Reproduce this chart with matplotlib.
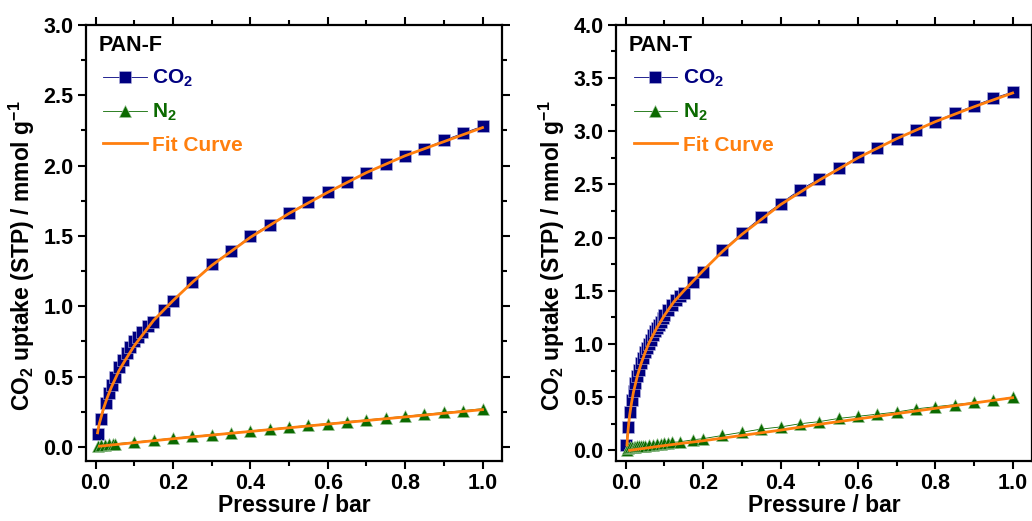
import matplotlib
matplotlib.use("Agg")
import matplotlib.pyplot as plt
from matplotlib.ticker import MultipleLocator, FormatStrFormatter

plt.rcParams["font.family"] = ["Liberation Sans", "DejaVu Sans"]
plt.rcParams["font.weight"] = "bold"
plt.rcParams["mathtext.fontset"] = "custom"
plt.rcParams["mathtext.rm"] = "Liberation Sans:bold"
plt.rcParams["mathtext.it"] = "Liberation Sans:bold"
plt.rcParams["mathtext.bf"] = "Liberation Sans:bold"
plt.rcParams["mathtext.default"] = "rm"

# ---- PAN-F ----
pf_co2_p = [0.005, 0.015, 0.026, 0.035, 0.042, 0.05, 0.06, 0.07, 0.08, 0.09,
            0.10, 0.11, 0.12, 0.135, 0.148, 0.177, 0.2, 0.25, 0.3, 0.35,
            0.4, 0.45, 0.5, 0.55, 0.6, 0.65, 0.7, 0.75, 0.8, 0.85, 0.9, 0.95, 1.0]
pf_co2_v = [0.09, 0.20, 0.31, 0.38, 0.44, 0.50, 0.57, 0.62, 0.67, 0.71,
            0.75, 0.78, 0.82, 0.86, 0.89, 0.97, 1.04, 1.17, 1.30, 1.39,
            1.50, 1.58, 1.66, 1.74, 1.81, 1.88, 1.95, 2.01, 2.07, 2.12, 2.18, 2.23, 2.28]
pf_n2_p = [0.005, 0.015, 0.025, 0.035, 0.045, 0.05, 0.1, 0.15, 0.2, 0.25, 0.3,
           0.35, 0.4, 0.45, 0.5, 0.55, 0.6, 0.65, 0.7, 0.75, 0.8, 0.85, 0.9, 0.95, 1.0]
pf_n2_v = [0.005, 0.012, 0.016, 0.018, 0.02, 0.022, 0.035, 0.048, 0.062, 0.075, 0.088,
           0.10, 0.113, 0.127, 0.14, 0.153, 0.166, 0.18, 0.192, 0.205, 0.218, 0.232,
           0.245, 0.258, 0.272]
pf_co2_fit_p = [0.005, 0.0075, 0.01, 0.015, 0.02, 0.03, 0.04, 0.05, 0.06, 0.075, 0.1,
                0.125, 0.15, 0.175, 0.2, 0.25, 0.3, 0.35, 0.4, 0.5, 0.6, 0.7, 0.8, 0.9, 1.0]
pf_co2_fit_v = [0.10, 0.14, 0.17, 0.22, 0.27, 0.35, 0.42, 0.48, 0.54, 0.61, 0.72,
                0.81, 0.90, 0.97, 1.04, 1.17, 1.29, 1.39, 1.49, 1.66, 1.81, 1.95, 2.07,
                2.17, 2.27]
pf_n2_fit_p = [0.01, 0.2, 0.4, 0.6, 0.8, 1.0]
pf_n2_fit_v = [0.005, 0.058, 0.11, 0.162, 0.213, 0.265]

# ---- PAN-T ----
pt_co2_p = [0.001, 0.005, 0.01, 0.015, 0.02, 0.025, 0.03, 0.035, 0.04, 0.045, 0.05,
            0.055, 0.06, 0.065, 0.07, 0.075, 0.08, 0.085, 0.09, 0.095, 0.1, 0.11,
            0.12, 0.13, 0.14, 0.15, 0.175, 0.2, 0.25, 0.3, 0.35, 0.4, 0.45, 0.5,
            0.55, 0.6, 0.65, 0.7, 0.75, 0.8, 0.85, 0.9, 0.95, 1.0]
pt_co2_v = [0.05, 0.22, 0.36, 0.47, 0.56, 0.63, 0.70, 0.76, 0.82, 0.87, 0.92,
            0.96, 1.00, 1.04, 1.08, 1.12, 1.15, 1.18, 1.21, 1.24, 1.27, 1.32,
            1.37, 1.41, 1.45, 1.48, 1.58, 1.68, 1.88, 2.04, 2.19, 2.32, 2.45, 2.55,
            2.65, 2.76, 2.84, 2.93, 3.01, 3.09, 3.17, 3.24, 3.31, 3.37]
pt_n2_p = [0.002, 0.005, 0.01, 0.015, 0.02, 0.025, 0.03, 0.035, 0.04, 0.045, 0.05,
           0.06, 0.07, 0.08, 0.09, 0.1, 0.11, 0.12, 0.14, 0.175, 0.2, 0.25, 0.3,
           0.35, 0.4, 0.45, 0.5, 0.55, 0.6, 0.65, 0.7, 0.75, 0.8, 0.85, 0.9, 0.95, 1.0]
pt_n2_v = [0.0, 0.02, 0.03, 0.03, 0.035, 0.035, 0.04, 0.04, 0.04, 0.045, 0.045,
           0.05, 0.05, 0.055, 0.06, 0.065, 0.07, 0.075, 0.08, 0.10, 0.11, 0.14, 0.17,
           0.20, 0.22, 0.25, 0.27, 0.30, 0.32, 0.34, 0.36, 0.39, 0.41, 0.43, 0.45,
           0.47, 0.50]
pt_co2_fit_p = [0.003, 0.005, 0.0075, 0.01, 0.015, 0.02, 0.03, 0.04, 0.05, 0.06, 0.08,
                0.1, 0.125, 0.15, 0.2, 0.25, 0.3, 0.4, 0.5, 0.6, 0.7, 0.8, 0.9, 1.0]
pt_co2_fit_v = [0.05, 0.15, 0.25, 0.33, 0.45, 0.55, 0.70, 0.82, 0.92, 1.01, 1.15,
                1.27, 1.40, 1.50, 1.69, 1.87, 2.03, 2.31, 2.54, 2.75, 2.93, 3.09,
                3.23, 3.36]
pt_n2_fit_p = [0.01, 0.05, 0.1, 0.15, 0.2, 0.3, 0.4, 0.5, 0.6, 0.7, 0.8, 0.9, 1.0]
pt_n2_fit_v = [0.0, 0.02, 0.045, 0.068, 0.09, 0.14, 0.19, 0.245, 0.295, 0.345,
               0.395, 0.445, 0.495]

NAVY = "#000080"
GREEN = "#0b6a00"
ORANGE = "#ff7f0e"

panels = [
    dict(name="PAN-F", ymax=3.0, pos=[0.0833, 0.1152, 0.403, 0.837],
         co2=(pf_co2_p, pf_co2_v), n2=(pf_n2_p, pf_n2_v),
         fit1=(pf_co2_fit_p, pf_co2_fit_v), fit2=(pf_n2_fit_p, pf_n2_fit_v)),
    dict(name="PAN-T", ymax=4.0, pos=[0.597, 0.1152, 0.403, 0.837],
         co2=(pt_co2_p, pt_co2_v), n2=(pt_n2_p, pt_n2_v),
         fit1=(pt_co2_fit_p, pt_co2_fit_v), fit2=(pt_n2_fit_p, pt_n2_fit_v)),
]

fig = plt.figure(figsize=(10.32, 5.21), dpi=100)

for pan in panels:
    ax = fig.add_axes(pan["pos"])
    ax.plot(*pan["co2"], color=NAVY, lw=0.6, marker="s", ms=8,
            mec="#b8b8e0", mew=0.4, label="CO$_2$", zorder=2)
    ax.plot(*pan["n2"], color=GREEN, lw=0.6, marker="^", ms=9,
            mec="#9fc79a", mew=0.4, label="N$_2$", zorder=2)
    ax.plot(*pan["fit1"], color=ORANGE, lw=2.0, label="Fit Curve", zorder=3)
    ax.plot(*pan["fit2"], color=ORANGE, lw=2.0, zorder=3)

    ax.set_xlim(-0.025, 1.05)
    ax.set_ylim(-0.1, pan["ymax"])
    ax.xaxis.set_major_locator(MultipleLocator(0.2))
    ax.xaxis.set_minor_locator(MultipleLocator(0.1))
    ax.yaxis.set_major_locator(MultipleLocator(0.5))
    ax.yaxis.set_minor_locator(MultipleLocator(0.25))
    ax.xaxis.set_major_formatter(FormatStrFormatter("%.1f"))
    ax.yaxis.set_major_formatter(FormatStrFormatter("%.1f"))
    ax.tick_params(which="both", direction="out", top=True, right=True,
                   width=1.5, labelsize=15.5)
    ax.tick_params(which="major", length=6, pad=3)
    ax.tick_params(which="minor", length=3.5)
    for s in ax.spines.values():
        s.set_linewidth(1.6)

    ax.set_xlabel("Pressure / bar", fontsize=16.5, fontweight="bold", labelpad=0)
    ax.set_ylabel("CO$_2$ uptake (STP) / mmol g$^{-1}$", fontsize=16.5,
                  fontweight="bold")
    ax.yaxis.set_label_coords(-0.118, 0.47)

    ax.text(0.031, 0.977, pan["name"], transform=ax.transAxes, fontsize=15.5,
            fontweight="bold", va="top", ha="left")
    leg = ax.legend(loc="upper left", bbox_to_anchor=(0.022, 0.92), frameon=False,
                    fontsize=15, handlelength=2.1, handletextpad=0.25,
                    labelspacing=0.6, borderaxespad=0, labelcolor="linecolor")
    for t in leg.get_texts():
        t.set_fontweight("bold")

fig.savefig("out.png", dpi=100)
